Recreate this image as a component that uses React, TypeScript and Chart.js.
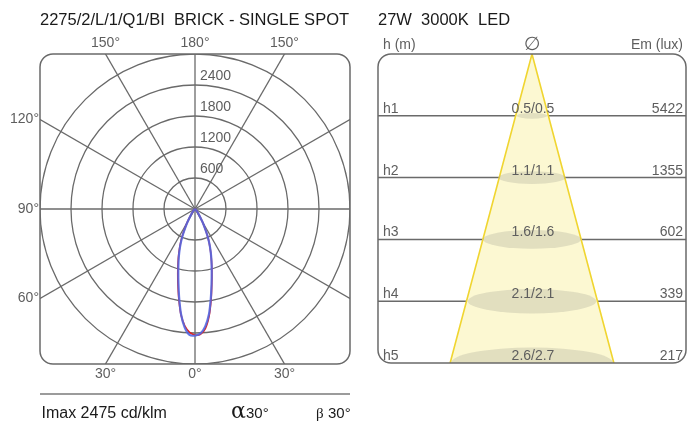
import React, { useEffect, useRef } from "react";
import { Chart, registerables } from "chart.js";
Chart.register(...registerables);

// ---------- data ----------
const TITLE_LEFT = "2275/2/L/1/Q1/BI  BRICK - SINGLE SPOT";
const TITLE_RIGHT = "27W  3000K  LED";
const FOOTER_IMAX = "Imax 2475 cd/klm";
const BEAM_ALPHA = 30;
const BEAM_BETA = 30;

const RADIAL_RINGS = [600, 1200, 1800, 2400, 3000];
const RADIAL_TICK_LABELS = [600, 1200, 1800, 2400];
const RADIAL_MAX = 3000;
const ANGLE_LINES = [-150, -120, -90, -60, -30, 0, 30, 60, 90, 120, 150, 180];
const ANGLE_LABELS = [-150, 180, 150, -120, -90, -60, -30, 0, 30];

const GAMMA = [-90, -60, -50, -45, -40, -35, -30, -27.5, -25, -22.5, -20, -17.5, -15, -12.5, -10, -7.5, -5, -2.5, 0,
  2.5, 5, 7.5, 10, 12.5, 15, 17.5, 20, 22.5, 25, 27.5, 30, 35, 40, 45, 50, 60, 90];
const INTENSITY_C90 = [0, 5, 15, 30, 60, 130, 290, 410, 570, 730, 890, 1060, 1250, 1480, 1760, 2060, 2300, 2440, 2450,
  2410, 2280, 2060, 1760, 1480, 1250, 1060, 890, 730, 570, 410, 290, 130, 60, 30, 15, 5, 0];
const INTENSITY_C0 = [0, 5, 15, 30, 62, 135, 300, 425, 590, 750, 915, 1090, 1290, 1520, 1790, 2070, 2270, 2390, 2440,
  2430, 2320, 2090, 1790, 1500, 1265, 1065, 885, 725, 565, 405, 288, 128, 58, 28, 14, 5, 0];

const LEVELS = ["h1", "h2", "h3", "h4", "h5"];
const HEIGHTS = [1, 2, 3, 4, 5];
const DIAM_A = [0.5, 1.1, 1.6, 2.1, 2.6];
const DIAM_B = [0.5, 1.1, 1.6, 2.1, 2.7];
const LUX = [5422, 1355, 602, 339, 217];
const CONE_HALF_WIDTH = 2.52;

// ---------- helpers ----------
const FONT = "'Liberation Sans', Arial, sans-serif";
const GRID = "#6a6a6a";
const LABEL = "#5e5e5e";

function roundRectPath(ctx: CanvasRenderingContext2D, x: number, y: number, w: number, h: number, r: number) {
  ctx.beginPath();
  ctx.moveTo(x + r, y);
  ctx.lineTo(x + w - r, y);
  ctx.arcTo(x + w, y, x + w, y + r, r);
  ctx.lineTo(x + w, y + h - r);
  ctx.arcTo(x + w, y + h, x + w - r, y + h, r);
  ctx.lineTo(x + r, y + h);
  ctx.arcTo(x, y + h, x, y + h - r, r);
  ctx.lineTo(x, y + r);
  ctx.arcTo(x, y, x + r, y, r);
  ctx.closePath();
}

function toXY(g: number[], I: number[]) {
  return g.map((a, i) => {
    const t = (a * Math.PI) / 180;
    return { x: I[i] * Math.sin(t), y: -I[i] * Math.cos(t) };
  });
}

const polarPlugin = {
  id: "polarGrid",
  beforeDatasetsDraw(chart: any) {
    const { ctx, chartArea: a, scales } = chart;
    const xs = scales.x, ys = scales.y;
    const cx = xs.getPixelForValue(0), cy = ys.getPixelForValue(0);
    ctx.save();
    roundRectPath(ctx, a.left, a.top, a.right - a.left, a.bottom - a.top, 13);
    ctx.clip();
    ctx.strokeStyle = GRID;
    ctx.lineWidth = 1.3;
    for (const r of RADIAL_RINGS) {
      const pr = xs.getPixelForValue(r) - cx;
      ctx.beginPath();
      ctx.arc(cx, cy, pr, 0, Math.PI * 2);
      ctx.stroke();
    }
    for (const d of ANGLE_LINES) {
      const t = (d * Math.PI) / 180;
      const R = RADIAL_MAX * 2;
      ctx.beginPath();
      ctx.moveTo(cx, cy);
      ctx.lineTo(xs.getPixelForValue(R * Math.sin(t)), ys.getPixelForValue(-R * Math.cos(t)));
      ctx.stroke();
    }
    ctx.restore();
    ctx.save();
    ctx.strokeStyle = GRID;
    ctx.lineWidth = 1.5;
    roundRectPath(ctx, a.left, a.top, a.right - a.left, a.bottom - a.top, 13);
    ctx.stroke();
    ctx.restore();
  },
  afterDraw(chart: any) {
    const { ctx, chartArea: a, scales } = chart;
    const xs = scales.x, ys = scales.y;
    const cx = xs.getPixelForValue(0);
    ctx.save();
    ctx.fillStyle = LABEL;
    ctx.font = `14px ${FONT}`;
    ctx.textBaseline = "middle";
    ctx.textAlign = "left";
    for (const v of RADIAL_TICK_LABELS) {
      ctx.fillText(String(v), cx + 5, ys.getPixelForValue(v) - 8.5);
    }
    for (const d of ANGLE_LABELS) {
      const t = (d * Math.PI) / 180;
      const dx = Math.sin(t), dy = -Math.cos(t);
      const k = RADIAL_MAX / Math.max(Math.abs(dx), Math.abs(dy));
      const px = xs.getPixelForValue(k * dx), py = ys.getPixelForValue(k * dy);
      const txt = `${Math.abs(d)}°`;
      if (Math.abs(dy) >= Math.abs(dx) - 1e-6 && dy > 0) {
        ctx.textAlign = "center";
        ctx.fillText(txt, px, a.top - 11);
      } else if (Math.abs(dy) >= Math.abs(dx) - 1e-6 && dy < 0) {
        ctx.textAlign = "center";
        ctx.fillText(txt, px, a.bottom + 10);
      } else {
        ctx.textAlign = "right";
        ctx.fillText(txt, a.left - 1, py);
      }
    }
    // title
    ctx.fillStyle = "#1a1a1a";
    ctx.textAlign = "left";
    ctx.textBaseline = "alphabetic";
    ctx.font = `16.5px ${FONT}`;
    ctx.fillText(TITLE_LEFT, a.left, 25);
    // separator
    ctx.strokeStyle = "#7a7a7a";
    ctx.lineWidth = 1.5;
    ctx.beginPath();
    ctx.moveTo(a.left, 394);
    ctx.lineTo(a.right, 394);
    ctx.stroke();
    // footer
    ctx.font = `16px ${FONT}`;
    ctx.fillText(FOOTER_IMAX, a.left + 1.5, 418);
    ctx.font = `22px 'DejaVu Serif', 'Liberation Serif', serif`;
    ctx.fillText("α", 231, 418);
    ctx.font = `15px ${FONT}`;
    ctx.fillText(`${BEAM_ALPHA}°`, 246, 418);
    ctx.font = `15px 'Liberation Serif', serif`;
    ctx.fillText("β", 316, 418);
    ctx.font = `15px ${FONT}`;
    ctx.fillText(`${BEAM_BETA}°`, 328, 418);
    ctx.restore();
  },
};

const conePlugin = {
  id: "coneDiagram",
  beforeDatasetsDraw(chart: any) {
    const { ctx, chartArea: a, scales } = chart;
    const xs = scales.x, ys = scales.y;
    ctx.save();
    ctx.strokeStyle = GRID;
    ctx.lineWidth = 1.5;
    HEIGHTS.slice(0, -1).forEach((h) => {
      const py = ys.getPixelForValue(h);
      ctx.beginPath();
      ctx.moveTo(a.left, py);
      ctx.lineTo(a.right, py);
      ctx.stroke();
    });
    // cone fill from the beam dataset
    const pts = chart.data.datasets[0].data as { x: number; y: number }[];
    ctx.beginPath();
    pts.forEach((p, i) => {
      const px = xs.getPixelForValue(p.x), py = ys.getPixelForValue(p.y);
      if (i === 0) ctx.moveTo(px, py);
      else ctx.lineTo(px, py);
    });
    ctx.closePath();
    ctx.fillStyle = "#fcf8d2";
    ctx.fill();
    ctx.restore();
  },
  afterDatasetsDraw(chart: any) {
    const { ctx, chartArea: a, scales } = chart;
    const xs = scales.x, ys = scales.y;
    const cx = xs.getPixelForValue(0);
    ctx.save();
    roundRectPath(ctx, a.left, a.top, a.right - a.left, a.bottom - a.top, 13);
    ctx.clip();
    ctx.fillStyle = "rgba(150,152,140,0.26)";
    HEIGHTS.forEach((h, i) => {
      const py = ys.getPixelForValue(h);
      const rx = xs.getPixelForValue((DIAM_A[i] + DIAM_B[i]) / 4) - cx;
      const ry = rx * 0.19;
      ctx.beginPath();
      ctx.ellipse(cx, py, rx, ry, 0, 0, Math.PI * 2);
      ctx.fill();
    });
    ctx.restore();
    ctx.save();
    ctx.strokeStyle = GRID;
    ctx.lineWidth = 1.5;
    roundRectPath(ctx, a.left, a.top, a.right - a.left, a.bottom - a.top, 13);
    ctx.stroke();
    ctx.restore();
  },
  afterDraw(chart: any) {
    const { ctx, chartArea: a, scales } = chart;
    const xs = scales.x, ys = scales.y;
    const cx = xs.getPixelForValue(0);
    ctx.save();
    ctx.fillStyle = LABEL;
    ctx.font = `14px ${FONT}`;
    ctx.textBaseline = "alphabetic";
    HEIGHTS.forEach((h, i) => {
      const py = ys.getPixelForValue(h) - 3;
      ctx.textAlign = "left";
      ctx.fillText(LEVELS[i], a.left + 5, py);
      ctx.textAlign = "center";
      ctx.fillText(`${DIAM_A[i].toFixed(1)}/${DIAM_B[i].toFixed(1)}`, cx + 1, py);
      ctx.textAlign = "right";
      ctx.fillText(String(LUX[i]), a.right - 3, py);
    });
    ctx.textAlign = "left";
    ctx.fillText("h (m)", a.left + 5, 49);
    ctx.textAlign = "right";
    ctx.fillText("Em (lux)", a.right - 3, 49);
    ctx.textAlign = "center";
    ctx.font = `19px 'DejaVu Sans', sans-serif`;
    ctx.fillText("∅", cx, 50);
    ctx.fillStyle = "#1a1a1a";
    ctx.textAlign = "left";
    ctx.font = `16.5px ${FONT}`;
    ctx.fillText(TITLE_RIGHT, a.left, 25);
    ctx.restore();
  },
};

function PolarChart() {
  const ref = useRef<HTMLCanvasElement>(null);
  useEffect(() => {
    const chart = new Chart(ref.current!, {
      type: "scatter",
      data: {
        datasets: [
          {
            label: "C90-C270",
            data: toXY(GAMMA, INTENSITY_C90),
            showLine: true,
            borderColor: "rgba(84,104,226,0.9)",
            borderWidth: 2.2,
            pointRadius: 0,
            tension: 0.3,
          },
          {
            label: "C0-C180",
            data: toXY(GAMMA, INTENSITY_C0),
            showLine: true,
            borderColor: "#e0201c",
            borderWidth: 1.6,
            pointRadius: 0,
            tension: 0.3,
          },
        ],
      },
      options: {
        animation: false,
        responsive: false,
        maintainAspectRatio: false,
        layout: { padding: { left: 40, right: 10, top: 54, bottom: 59 } },
        scales: {
          x: { type: "linear", min: -RADIAL_MAX, max: RADIAL_MAX, display: false },
          y: { type: "linear", min: -RADIAL_MAX, max: RADIAL_MAX, display: false },
        },
        plugins: { legend: { display: false }, tooltip: { enabled: false } },
      },
      plugins: [polarPlugin],
    });
    return () => chart.destroy();
  }, []);
  return <canvas ref={ref} width={360} height={423} style={{ position: "absolute", left: 0, top: 0 }} />;
}

function ConeChart() {
  const ref = useRef<HTMLCanvasElement>(null);
  useEffect(() => {
    const half = HEIGHTS[HEIGHTS.length - 1] * Math.tan(((BEAM_ALPHA / 2) * Math.PI) / 180);
    const hMax = HEIGHTS[HEIGHTS.length - 1];
    const chart = new Chart(ref.current!, {
      type: "scatter",
      data: {
        datasets: [
          {
            label: "beam",
            data: [
              { x: -half, y: hMax },
              { x: 0, y: 0 },
              { x: half, y: hMax },
            ],
            showLine: true,
            fill: false,
            borderColor: "#f0d530",
            borderWidth: 1.6,
            pointRadius: 0,
          },
        ],
      },
      options: {
        animation: false,
        responsive: false,
        maintainAspectRatio: false,
        layout: { padding: { left: 18, right: 1, top: 54, bottom: 60 } },
        scales: {
          x: { type: "linear", min: -CONE_HALF_WIDTH, max: CONE_HALF_WIDTH, display: false },
          y: { type: "linear", min: 0, max: hMax, reverse: true, display: false },
        },
        plugins: { legend: { display: false }, tooltip: { enabled: false } },
      },
      plugins: [conePlugin],
    });
    return () => chart.destroy();
  }, []);
  return <canvas ref={ref} width={327} height={423} style={{ position: "absolute", left: 360, top: 0 }} />;
}

export default function App() {
  return (
    <div style={{ position: "fixed", left: 0, top: 0, width: 687, height: 423, background: "#fff", overflow: "hidden" }}>
      <PolarChart />
      <ConeChart />
    </div>
  );
}
